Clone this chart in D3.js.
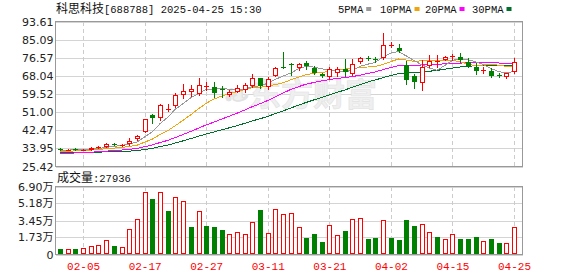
<!DOCTYPE html>
<html>
<head>
<meta charset="utf-8">
<script src="https://cdn.jsdelivr.net/npm/d3@7"></script>
<style>
  body { margin: 0; background: #fff; }
  svg { display: block; }
</style>
</head>
<body>
<div id="container"></div>
<script>
// 交易日
var dates = ['01-23','01-24','01-27','02-05','02-06','02-07','02-10','02-11','02-12','02-13',
  '02-14','02-17','02-18','02-19','02-20','02-21','02-24','02-25','02-26','02-27',
  '02-28','03-03','03-04','03-05','03-06','03-07','03-10','03-11','03-12','03-13',
  '03-14','03-17','03-18','03-19','03-20','03-21','03-24','03-25','03-26','03-27',
  '03-28','03-31','04-01','04-02','04-03','04-07','04-08','04-09','04-10','04-11',
  '04-14','04-15','04-16','04-17','04-18','04-21','04-22','04-23','04-24','04-25'];

var open  = [33.8,33.2,33.7,33.2,33.4,34.3,34.8,36.0,35.3,35.9, 38.3,41.7,49.6,48.0,52.4,54.0,59.0,60.3,59.5,63.0,
             63.0,61.7,59.0,60.6,61.6,63.4,66.9,62.6,68.2,72.0, 73.8,71.6,74.2,71.8,69.0,67.4,69.2,71.3,69.0,74.4,
             76.6,75.8,76.5,82.5,81.0,73.2,67.8,64.5,72.5,74.9, 75.6,77.5,77.1,74.4,72.4,70.7,70.5,68.6,67.7,69.7];
var high  = [34.0,33.5,34.0,33.5,34.4,35.0,36.3,36.4,36.2,38.8, 40.2,47.9,49.9,54.8,54.6,59.8,64.3,63.8,66.9,65.0,
             65.0,63.5,61.2,63.8,64.7,68.7,67.2,67.6,72.3,79.1, 74.2,74.3,75.2,72.6,69.4,72.0,72.3,75.9,76.2,76.8,
             77.6,76.8,88.3,84.2,83.1,74.9,68.9,75.4,77.9,77.9, 77.3,78.4,78.6,76.3,74.2,72.0,71.6,69.6,69.3,76.3];
var low   = [33.4,33.1,33.3,33.1,33.3,34.1,34.6,35.4,35.0,35.6, 37.9,41.5,46.0,47.4,51.6,53.6,57.6,58.4,59.0,61.6,
             58.0,58.0,58.6,60.3,60.3,62.9,62.2,62.0,67.8,71.6, 68.5,70.6,71.3,68.8,67.6,66.6,67.8,67.9,68.4,74.0,
             75.4,74.6,76.0,81.5,79.4,64.0,62.3,61.6,72.0,72.4, 75.4,75.4,74.4,72.1,68.9,69.5,67.6,67.5,67.2,69.5];
var close = [33.6,33.3,33.6,33.4,34.3,34.8,36.0,35.9,35.6,37.5, 39.9,47.7,48.2,54.5,52.5,59.0,60.8,61.9,63.8,63.1,
             59.8,61.6,60.6,62.4,63.8,66.9,63.1,66.6,71.6,71.8, 73.6,73.5,72.5,69.4,67.8,71.3,71.3,69.7,73.7,76.5,
             76.5,75.7,82.6,82.6,79.9,66.3,65.3,72.1,74.9,75.0, 77.1,77.6,75.6,72.9,70.2,70.8,68.0,68.5,69.3,74.4];
// 01-23 之前的收盘价（估计），用于计算均线
var preCloses = [34.6,34.1,33.9,33.5,33.2,33.4,33.0,32.8,32.6,32.9,
                 31.8,31.2,30.6,30.2,30.0,30.4,30.5,30.9,31.1,31.3,
                 31.5,31.6,31.9,31.8,32.2,32.5,32.9,32.7,33.2];
// 成交量（万手）
var volume = [0.55,0.52,0.55,0.65,0.83,0.93,1.46,0.86,0.72,2.57, 3.65,6.37,5.59,6.37,4.38,5.86,5.39,2.77,4.46,2.87,
              2.77,2.47,2.06,2.27,2.06,3.27,4.48,2.16,4.58,4.08, 4.18,2.84,1.63,2.06,1.26,3.04,1.93,2.37,3.65,3.75,
              1.56,1.66,3.55,1.66,1.46,3.47,2.87,3.14,2.27,1.76, 1.56,2.06,1.56,1.56,1.76,1.36,1.56,1.16,1.16,2.7936];
var volUp = [0,1,0,1,1,1,1,0,1,1, 1,1,0,1,0,1,1,0,1,0, 0,0,1,1,1,1,0,1,1,1,
             1,1,0,0,0,1,1,0,1,1, 0,0,1,0,0,0,0,1,1,0, 1,1,0,0,0,1,0,0,1,1];

var priceTicks = [25.42,33.95,42.47,51.00,59.52,68.04,76.57,85.09,93.61];
var volTicks = [0,1.73,3.45,5.18,6.90];
var volTickLabels = ['0','1.73万','3.45万','5.18万','6.90万'];
var xTickDates = ['02-05','02-17','02-27','03-11','03-21','04-02','04-15','04-25'];
var maPeriods = [5,10,20,30];
var maNames = ['5PMA','10PMA','20PMA','30PMA'];
var maColors = ['#999999','#f0a30a','#ff00ff','#00702c'];

var RED = '#ff0000', GREEN = '#008000';
var W = 578, H = 276;
var left = 55.5, right = 522.5, pTop = 21.5, pBot = 166.5, vTop = 186.5, vBot = 254.5;

var svg = d3.select('#container').append('svg').attr('width', W).attr('height', H);

var x = d3.scalePoint().domain(dates).range([60, 514]);
var y = d3.scaleLinear().domain([25.42, 93.61]).range([pBot, pTop]);
var yv = d3.scaleLinear().domain([0, 6.90]).range([vBot, vTop]);
function px(v) { return Math.round(v) + 0.5; }

// 均线
var all = preCloses.concat(close);
var mas = maPeriods.map(function(p) {
  return close.map(function(c, i) {
    var k = i + preCloses.length;
    return d3.mean(all.slice(k - p + 1, k + 1));
  });
});

// 网格
var grid = svg.append('g').attr('shape-rendering', 'crispEdges');
grid.append('g')
  .attr('transform', 'translate(' + left + ',0)')
  .call(d3.axisLeft(y).tickValues(priceTicks).tickSize(-(right - left)).tickFormat(''))
  .call(function(g) { g.select('.domain').remove(); g.selectAll('line').attr('stroke', '#d4d4d4'); });
grid.append('g')
  .attr('transform', 'translate(' + left + ',0)')
  .call(d3.axisLeft(yv).tickValues(volTicks).tickSize(-(right - left)).tickFormat(''))
  .call(function(g) { g.select('.domain').remove(); g.selectAll('line').attr('stroke', '#d4d4d4'); });

grid.selectAll('.vx').data(xTickDates).enter().append('line')
  .attr('x1', function(d) { return px(x(d)); }).attr('x2', function(d) { return px(x(d)); })
  .attr('y1', pTop).attr('y2', pBot).attr('stroke', '#cccccc').attr('stroke-dasharray', '4,3');
grid.selectAll('.vx2').data(xTickDates).enter().append('line')
  .attr('x1', function(d) { return px(x(d)); }).attr('x2', function(d) { return px(x(d)); })
  .attr('y1', vTop).attr('y2', vBot).attr('stroke', '#cccccc').attr('stroke-dasharray', '4,3');

// 水印
var wm = svg.append('text').attr('x', 222).attr('y', 106).attr('fill', '#efefef')
  .attr('stroke', '#e2e2e2').attr('stroke-width', 0.6).attr('font-weight', 'bold');
wm.append('tspan').attr('font-family', 'DejaVu Serif').attr('font-style', 'italic').attr('font-size', 30).text('\u2767');
wm.append('tspan').attr('font-family', 'Noto Sans CJK SC').attr('font-size', 32).attr('dx', 2).text('东方财富');

// 边框
svg.append('rect').attr('x', left).attr('y', pTop).attr('width', right - left).attr('height', pBot - pTop)
  .attr('fill', 'none').attr('stroke', '#999').attr('shape-rendering', 'crispEdges');
svg.append('path').attr('d', 'M' + left + ',' + vBot + 'V' + vTop + 'H' + right + 'V' + vBot + 'H' + left)
  .attr('fill', 'none').attr('stroke', '#999').attr('shape-rendering', 'crispEdges');

// 均线
var line = d3.line().x(function(d, i) { return x(dates[i]); }).y(function(d) { return y(d); });
svg.append('g').selectAll('path').data(mas.slice().reverse()).enter().append('path')
  .attr('d', line).attr('fill', 'none')
  .attr('stroke', function(d, i) { return maColors[maColors.length - 1 - i]; })
  .attr('stroke-width', 1).attr('shape-rendering', 'crispEdges');

// K线
var candles = svg.append('g').attr('shape-rendering', 'crispEdges');
dates.forEach(function(d, i) {
  var cx = Math.round(x(d));
  var up = close[i] >= open[i];
  var col = up ? RED : GREEN;
  var yT = Math.round(y(Math.max(open[i], close[i])));
  var yB = Math.round(y(Math.min(open[i], close[i])));
  var yH = Math.round(y(high[i])), yL = Math.round(y(low[i]));
  candles.append('line').attr('x1', cx + 0.5).attr('x2', cx + 0.5).attr('y1', yH).attr('y2', yT).attr('stroke', col);
  candles.append('line').attr('x1', cx + 0.5).attr('x2', cx + 0.5).attr('y1', yB).attr('y2', yL + 1).attr('stroke', col);
  if (yB - yT < 2) {
    candles.append('rect').attr('x', cx - 2).attr('y', yT).attr('width', 5).attr('height', Math.max(1, yB - yT)).attr('fill', col);
  } else if (up) {
    candles.append('rect').attr('x', cx - 1.5).attr('y', yT + 0.5).attr('width', 4).attr('height', yB - yT - 1)
      .attr('fill', '#fff').attr('stroke', col);
  } else {
    candles.append('rect').attr('x', cx - 2).attr('y', yT).attr('width', 5).attr('height', yB - yT).attr('fill', col);
  }
});

// 成交量
var vols = svg.append('g').attr('shape-rendering', 'crispEdges');
volume.forEach(function(v, i) {
  var cx = Math.round(x(dates[i]));
  var yt = Math.round(yv(v));
  var b = Math.floor(vBot);
  if (volUp[i]) {
    vols.append('rect').attr('x', cx - 1.5).attr('y', yt + 0.5).attr('width', 4).attr('height', b - yt - 1)
      .attr('fill', '#fff').attr('stroke', RED);
  } else {
    vols.append('rect').attr('x', cx - 2).attr('y', yt).attr('width', 5).attr('height', b - yt).attr('fill', GREEN);
  }
});

// 坐标轴文字
var axP = svg.append('g').attr('transform', 'translate(' + left + ',0)')
  .call(d3.axisLeft(y).tickValues(priceTicks).tickSize(0).tickPadding(2).tickFormat(d3.format('.2f')));
axP.select('.domain').remove();
axP.selectAll('text').attr('font-family', 'DejaVu Sans').attr('font-size', 11).attr('fill', '#222');

var axV = svg.append('g').attr('transform', 'translate(' + left + ',0)')
  .call(d3.axisLeft(yv).tickValues(volTicks).tickSize(0).tickPadding(2)
    .tickFormat(function(d, i) { return volTickLabels[i]; }));
axV.select('.domain').remove();
axV.selectAll('text').attr('font-family', 'DejaVu Sans, Noto Sans CJK SC').attr('font-size', 11).attr('fill', '#222');

var axX = svg.append('g').attr('transform', 'translate(0,' + vBot + ')')
  .call(d3.axisBottom(x).tickValues(xTickDates).tickSize(0).tickPadding(8));
axX.select('.domain').remove();
axX.selectAll('text').attr('font-family', 'Liberation Mono').attr('font-size', 11).attr('fill', RED);

// 标题
var title = svg.append('text').attr('x', 56).attr('y', 13).attr('fill', '#111').attr('font-size', 12);
title.append('tspan').attr('font-family', 'Noto Sans CJK SC').text('科思科技');
title.append('tspan').attr('font-family', 'Liberation Mono').attr('font-size', 10.5).text('[688788] 2025-04-25 15:30');

var vt = svg.append('text').attr('x', 57).attr('y', 182).attr('fill', '#111').attr('font-size', 12);
vt.append('tspan').attr('font-family', 'Noto Sans CJK SC').text('成交量');
vt.append('tspan').attr('font-family', 'Liberation Mono').attr('font-size', 10.5).text(':' + Math.round(volume[volume.length - 1] * 10000));

// 图例
var legX = [338, 380, 425, 472];
var leg = svg.append('g');
maNames.forEach(function(n, i) {
  var t = leg.append('text').attr('x', legX[i]).attr('y', 12.5).attr('font-family', 'Liberation Mono')
    .attr('font-size', 10.5).attr('fill', '#111').text(n);
  var w = t.node().getComputedTextLength();
  leg.append('rect').attr('x', legX[i] + w + 3).attr('y', 7).attr('width', 5).attr('height', 4).attr('fill', maColors[i]);
});
</script>
</body>
</html>
